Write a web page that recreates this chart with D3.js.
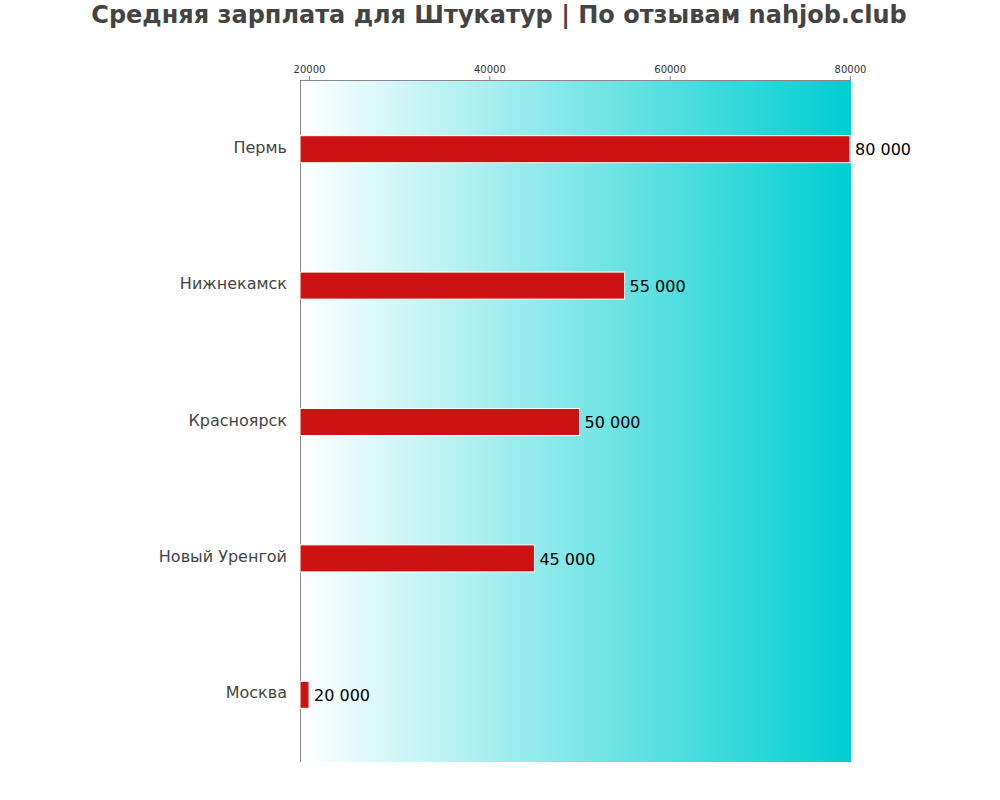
<!DOCTYPE html>
<html><head><meta charset="utf-8">
<script src="https://cdn.jsdelivr.net/npm/d3@7"></script>
<style>body{margin:0;background:#fff}svg{font-family:"DejaVu Sans",sans-serif}</style>
</head><body>
<script>
const categories = ["Пермь","Нижнекамск","Красноярск","Новый Уренгой","Москва"];
const values = [80000,55000,50000,45000,20000];
const tickValues = [20000,40000,60000,80000];
const title = "Средняя зарплата для Штукатур | По отзывам nahjob.club";

(function(){
const W=1000,H=800;
const svg=d3.select("body").append("svg").attr("width",W).attr("height",H);
const mL=300,mR=851,mT=80,mB=762;
const x=d3.scaleLinear().domain([19000,80000]).range([mL,850]);
const y=d3.scaleBand().domain(categories).range([mT,mB]);

const defs=svg.append("defs");
const g=defs.append("linearGradient").attr("id","bg").attr("x1","0").attr("x2","1").attr("y1","0").attr("y2","0");
g.append("stop").attr("offset","0").attr("stop-color","#ffffff");
g.append("stop").attr("offset","1").attr("stop-color","#00ced1");
svg.append("rect").attr("x",mL).attr("y",mT).attr("width",mR-mL).attr("height",mB-mT).attr("fill","url(#bg)");

svg.append("text").attr("x",499).attr("y",23).attr("text-anchor","middle")
  .attr("font-size",24).attr("font-weight","bold").attr("fill","#444").text(title);

const ax=svg.append("g").attr("transform",`translate(0,${mT})`)
  .call(d3.axisTop(x).tickValues(tickValues).tickFormat(d=>String(d)).tickSize(4).tickSizeOuter(0));
ax.select(".domain").attr("stroke","#888");
ax.selectAll(".tick line").attr("stroke","#888");
ax.selectAll(".tick text").attr("font-size",10).attr("fill","#333").attr("font-family","DejaVu Sans");
svg.append("line").attr("x1",mL+0.5).attr("x2",mL+0.5).attr("y1",mT).attr("y2",mB).attr("stroke","#888");

const bh=27;
svg.selectAll("rect.bar").data(values).enter().append("rect").attr("class","bar")
  .attr("x",x(19000)).attr("y",(d,i)=>y(categories[i])+y.bandwidth()/2-bh/2+1)
  .attr("width",d=>x(d)-x(19000)).attr("height",bh)
  .attr("fill","#cc1212").attr("stroke","#fff").attr("stroke-width",1);

svg.selectAll("text.cat").data(categories).enter().append("text").attr("class","cat")
  .attr("x",287).attr("y",d=>y(d)+y.bandwidth()/2-1).attr("dy","0.35em")
  .attr("text-anchor","end").attr("font-size",16).attr("fill","#444").text(d=>d);

svg.selectAll("text.val").data(values).enter().append("text").attr("class","val")
  .attr("x",d=>x(d)+5).attr("y",(d,i)=>y(categories[i])+y.bandwidth()/2+1.5).attr("dy","0.35em")
  .attr("font-size",16).attr("fill","#000").text(d=>d3.format(",")(d).replace(/,/g," "));
})();
</script>
</body></html>
